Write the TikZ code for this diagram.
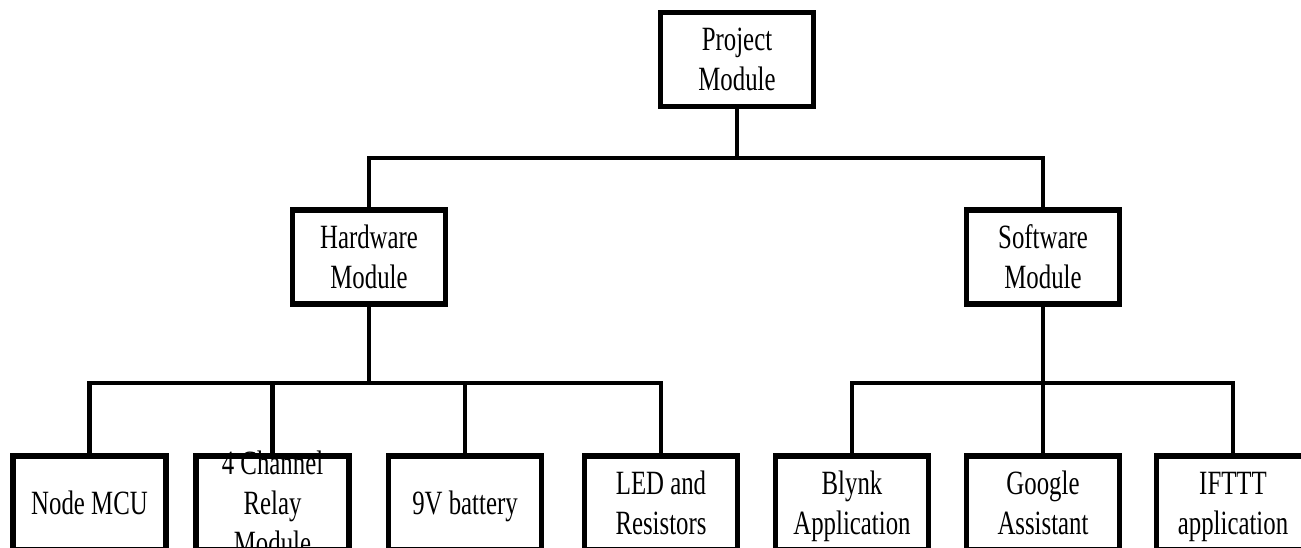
\documentclass[tikz,border=0pt]{standalone}
\usepackage{fontspec}
\setmainfont{Liberation Serif}[FakeStretch=0.73]
\newcommand\mystrut{\rule[-8pt]{0pt}{38pt}}
\begin{document}
\begin{tikzpicture}[x=1pt,y=-1pt,
  box/.style={draw, line width=5.5pt, fill=white, minimum width=153pt, minimum height=94pt,
    inner sep=0pt, outer sep=0pt, align=center, font=\fontsize{34}{40}\selectfont},
  lbl/.style={inner sep=0pt, align=center, font=\fontsize{34}{40}\selectfont},
  conn/.style={line width=4.6pt}]
\useasboundingbox (0,0) rectangle (1301,548);
\fill[white] (0,0) rectangle (1301,548);
\clip (0,0) rectangle (1301,548);

% boxes
\node[box] (proj) at (737,59.5) {\mystrut Project\\\mystrut Module};
\node[box] (hw) at (369,257) {\mystrut Hardware\\\mystrut Module};
\node[box] (sw) at (1043,257) {\mystrut Software\\\mystrut Module};

\node[box] (mcu) at (89.5,503) {\mystrut Node MCU};
\node[box] (relay) at (272.5,503) {};
\node[lbl] (relaytxt) at (relay.center) {\mystrut 4 Channel\\\mystrut Relay\\\mystrut Module};
\node[box] (bat) at (465,503) {\mystrut 9V battery};
\node[box] (led) at (661,503) {\mystrut LED and\\\mystrut Resistors};
\node[box] (bly) at (852,503) {\mystrut Blynk\\\mystrut Application};
\node[box] (ggl) at (1043,503) {\mystrut Google\\\mystrut Assistant};
\node[box] (ift) at (1233,503) {\mystrut IFTTT\\\mystrut application};

% bus points
\coordinate (top) at (737,158);
\coordinate (hbus) at (369,383);
\coordinate (sbus) at (1043,383);

% connectors
\draw[conn] (proj.south) -- (top);
\draw[conn] (hw.north) |- (top) -| (sw.north);

\draw[conn] (hw.south) -- (hbus);
\draw[conn] (mcu.north) |- (hbus) -| (led.north);
\draw[conn] (relay.north) -- (relay.north |- hbus);
\draw[conn] (bat.north) -- (bat.north |- hbus);

\draw[conn] (sw.south) -- (sbus);
\draw[conn] (bly.north) |- (sbus) -| (ift.north);
\draw[conn] (ggl.north) -- (sbus);
\end{tikzpicture}
\end{document}
